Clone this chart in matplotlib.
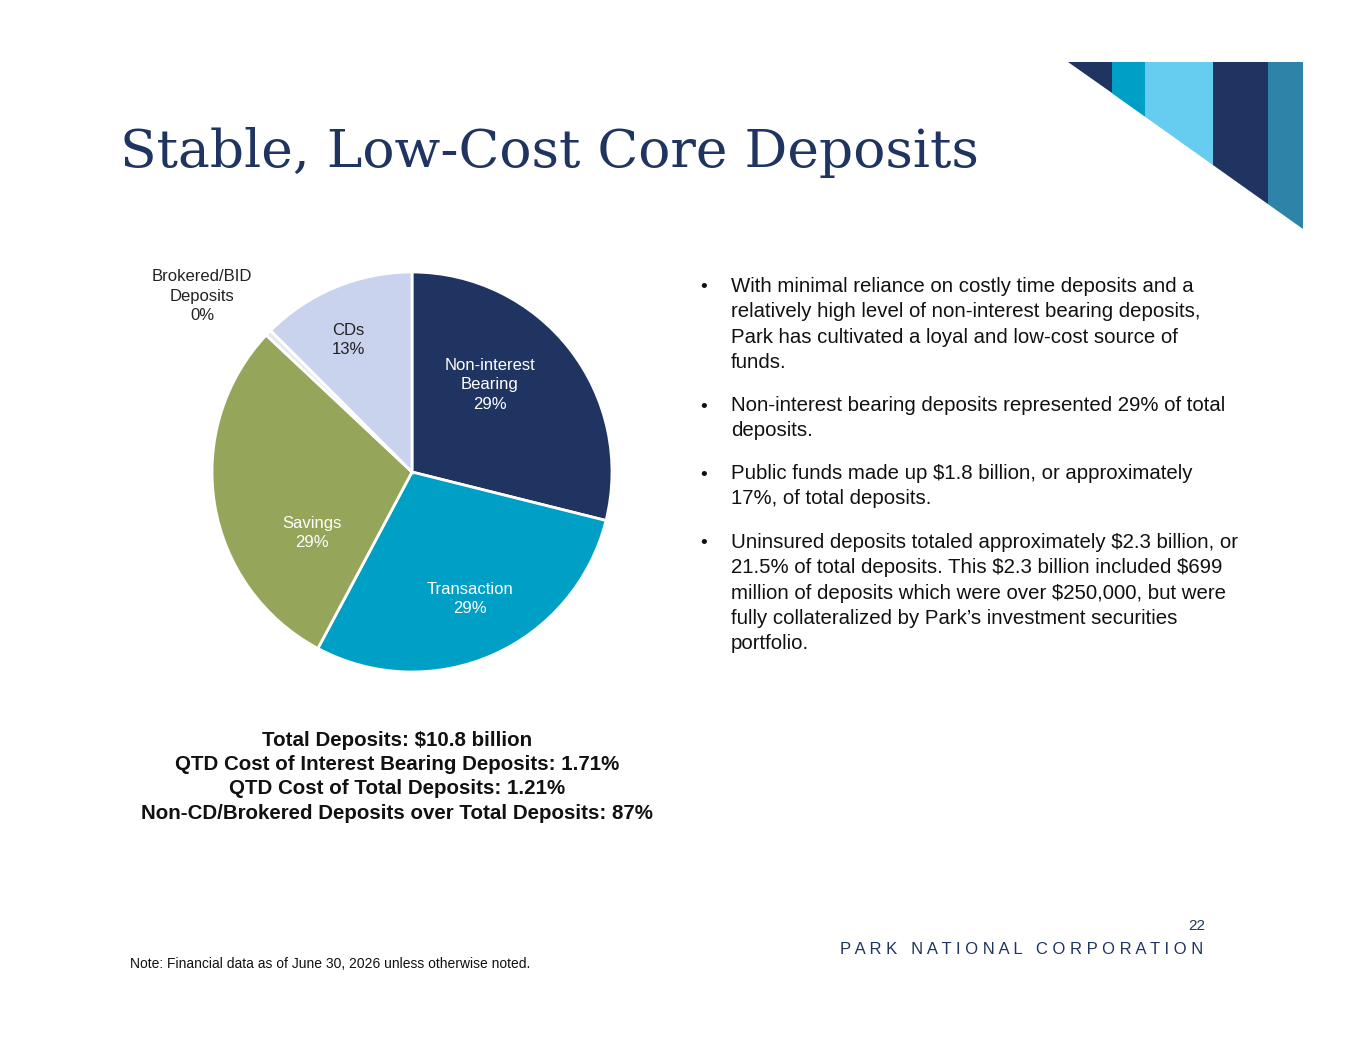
import matplotlib
matplotlib.use("Agg")
import matplotlib.pyplot as plt
from matplotlib.patches import Polygon

plt.rcParams["text.parse_math"] = False

labels = ["Non-interest\nBearing\n29%", "Transaction\n29%", "Savings\n29%", "Brokered/BID\nDeposits\n0%", "CDs\n13%"]
values = [28.9, 28.9, 29.2, 0.5, 12.5]
colors = ["#1f3461", "#00a0c6", "#95a55a", "#e8e8e8", "#c9d3ee"]
label_colors = ["white", "white", "white", "#222222", "#222222"]

W, H = 1365, 1055
fig = plt.figure(figsize=(W/100, H/100), dpi=100)
bg = fig.add_axes([0, 0, 1, 1])
bg.set_xlim(0, W); bg.set_ylim(H, 0); bg.axis("off")

xs = [1068, 1112, 1145, 1213, 1268, 1303]
dcol = ["#1f3461", "#00a0c6", "#66ccf0", "#1f3461", "#2e84a8"]
def yd(x): return 62 + (x - 1068) * (229 - 62) / (1303 - 1068)
for i in range(5):
    a, b = xs[i], xs[i+1]
    bg.add_patch(Polygon([(a, 62), (b, 62), (b, yd(b)), (a, yd(a))], closed=True, color=dcol[i], lw=0))

bg.text(120, 152, "Stable, Low-Cost Core Deposits", fontsize=38.5, family="DejaVu Serif",
        color="#1f3461", va="center", ha="left")

pr = 200
pax = fig.add_axes([(412-pr)/W, 1-(472+pr)/H, 2*pr/W, 2*pr/H])
wedges, _ = pax.pie(values, colors=colors, startangle=90, counterclock=False,
                    wedgeprops=dict(edgecolor="white", linewidth=2))
pax.set_xlim(-1, 1); pax.set_ylim(-1, 1)

ov = fig.add_axes([0, 0, 1, 1])
ov.set_xlim(0, W); ov.set_ylim(H, 0); ov.axis("off"); ov.patch.set_alpha(0)
lab_pos = [(490, 385), (470, 599), (312, 533), (202, 296), (348, 340)]
for (x, y), t, c in zip(lab_pos, labels, label_colors):
    ov.text(x, y, t, ha="center", va="center", fontsize=12, color=c, family="Liberation Sans", linespacing=1.35)

summary = ["Total Deposits: $10.8 billion", "QTD Cost of Interest Bearing Deposits: 1.71%",
           "QTD Cost of Total Deposits: 1.21%", "Non-CD/Brokered Deposits over Total Deposits: 87%"]
for i, s in enumerate(summary):
    ov.text(397, 740 + i*24.5, s, ha="center", va="center", fontsize=14.8, fontweight="bold",
            family="Liberation Sans", color="#111111")

bullets = [
    ("With minimal reliance on costly time deposits and a\nrelatively high level of non-interest bearing deposits,\nPark has cultivated a loyal and low-cost source of\nfunds.", 288),
    ("Non-interest bearing deposits represented 29% of total\ndeposits.", 407),
    ("Public funds made up $1.8 billion, or approximately\n17%, of total deposits.", 475),
    ("Uninsured deposits totaled approximately $2.3 billion, or\n21.5% of total deposits. This $2.3 billion included $699\nmillion of deposits which were over $250,000, but were\nfully collateralized by Park\u2019s investment securities\nportfolio.", 544),
]
for t, y in bullets:
    ov.text(700, y, "\u2022", fontsize=14, family="Liberation Sans", va="center", color="#111111")
    ov.text(731, y - 11, t, fontsize=14.7, family="Liberation Sans", va="top", color="#111111", linespacing=1.42)

ov.text(1205, 926, "22", fontsize=11, ha="right", va="center", family="Liberation Sans", color="#1f3461")
ov.text(1203, 950, "P A R K   N A T I O N A L   C O R P O R A T I O N",
        fontsize=12, ha="right", va="center", family="Liberation Sans", color="#1f3461")
ov.text(130, 964, "Note: Financial data as of June 30, 2026 unless otherwise noted.", fontsize=10,
        va="center", family="Liberation Sans", color="#111111")

fig.savefig("out.png", dpi=100, facecolor="white")
